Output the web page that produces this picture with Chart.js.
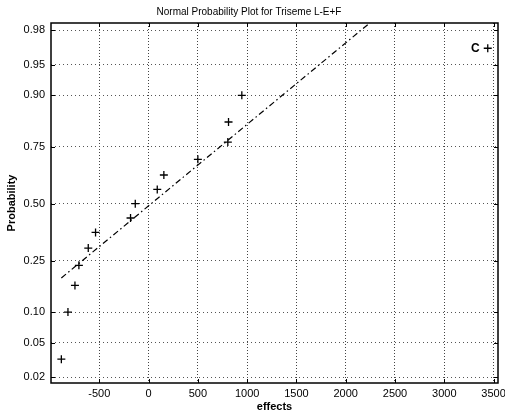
<!DOCTYPE html>
<html><head><meta charset="utf-8">
<script src="https://cdn.jsdelivr.net/npm/chart.js@4/dist/chart.umd.min.js"></script>
<style>html,body{margin:0;padding:0;background:#fff;}</style>
</head><body>
<canvas id="c" width="505" height="416"></canvas>
<script>
// ---- data ----
const effects = [-885, -818, -747, -707, -612, -538, -183, -135, 88, 155, 500, 804, 811, 946, 3441];
const probabilities = [0.033, 0.10, 0.167, 0.233, 0.30, 0.367, 0.433, 0.50, 0.567, 0.633, 0.70, 0.767, 0.833, 0.90, 0.967];
const pointLabels = ['', '', '', '', '', '', '', '', '', '', '', '', '', '', 'C'];
const refLineEffects = [-885, 3441];
const refLineProbs = [0.19, 0.9995];
const xTicks = [-500, 0, 500, 1000, 1500, 2000, 2500, 3000, 3500];
const xTickLabels = ['-500', '0', '500', '1000', '1500', '2000', '2500', '3000', '3500'];
const yTickProbs = [0.02, 0.05, 0.10, 0.25, 0.50, 0.75, 0.90, 0.95, 0.98];
const yTickLabels = ['0.02', '0.05', '0.10', '0.25', '0.50', '0.75', '0.90', '0.95', '0.98'];
const xRange = [-990, 3545];
const yProbRange = [0.017, 0.9837];

// inverse normal CDF (probability axis transform)
function norminv(p) {
  const a = [-3.969683028665376e+01, 2.209460984245205e+02, -2.759285104469687e+02, 1.383577518672690e+02, -3.066479806614716e+01, 2.506628277459239e+00];
  const b = [-5.447609879822406e+01, 1.615858368580409e+02, -1.556989798598866e+02, 6.680131188771972e+01, -1.328068155288572e+01];
  const c = [-7.784894002430293e-03, -3.223964580411365e-01, -2.400758277161838e+00, -2.549732539343734e+00, 4.374664141464968e+00, 2.938163982698783e+00];
  const d = [7.784695709041462e-03, 3.224671290700398e-01, 2.445134137142996e+00, 3.754408661907416e+00];
  const pl = 0.02425, ph = 1 - pl;
  let q, r;
  if (p < pl) {
    q = Math.sqrt(-2 * Math.log(p));
    return (((((c[0]*q+c[1])*q+c[2])*q+c[3])*q+c[4])*q+c[5]) / ((((d[0]*q+d[1])*q+d[2])*q+d[3])*q+1);
  } else if (p <= ph) {
    q = p - 0.5; r = q*q;
    return (((((a[0]*r+a[1])*r+a[2])*r+a[3])*r+a[4])*r+a[5])*q / (((((b[0]*r+b[1])*r+b[2])*r+b[3])*r+b[4])*r+1);
  } else {
    q = Math.sqrt(-2 * Math.log(1 - p));
    return -(((((c[0]*q+c[1])*q+c[2])*q+c[3])*q+c[4])*q+c[5]) / ((((d[0]*q+d[1])*q+d[2])*q+d[3])*q+1);
  }
}

const pointData = effects.map((x, i) => ({x: x, y: norminv(probabilities[i])}));
const lineData = refLineEffects.map((x, i) => ({x: x, y: norminv(refLineProbs[i])}));

const framePlugin = {
  id: 'frame',
  afterDatasetsDraw(chart) {
    const {ctx, chartArea: a, scales: {x, y}} = chart;
    ctx.save();
    ctx.strokeStyle = '#000';
    ctx.lineWidth = 1.5;
    ctx.setLineDash([]);
    ctx.strokeRect(a.left, a.top, a.right - a.left, a.bottom - a.top);
    ctx.lineWidth = 1;
    const tl = 4;
    ctx.beginPath();
    xTicks.forEach(v => {
      const px = Math.round(x.getPixelForValue(v)) + 0.5;
      ctx.moveTo(px, a.bottom); ctx.lineTo(px, a.bottom - tl);
      ctx.moveTo(px, a.top); ctx.lineTo(px, a.top + tl);
    });
    yTickProbs.forEach(p => {
      const py = Math.round(y.getPixelForValue(norminv(p))) + 0.5;
      ctx.moveTo(a.left, py); ctx.lineTo(a.left + tl, py);
      ctx.moveTo(a.right, py); ctx.lineTo(a.right - tl, py);
    });
    ctx.stroke();
    // point labels
    ctx.fillStyle = '#000';
    ctx.font = 'bold 12px "Liberation Sans", Arial, sans-serif';
    ctx.textAlign = 'right';
    ctx.textBaseline = 'middle';
    pointData.forEach((pt, i) => {
      if (!pointLabels[i]) return;
      ctx.fillText(pointLabels[i], x.getPixelForValue(pt.x) - 8, y.getPixelForValue(pt.y));
    });
    ctx.restore();
  }
};

const tickFont = {family: '"Liberation Sans", Arial, sans-serif', size: 11};

new Chart(document.getElementById('c'), {
  type: 'scatter',
  data: {
    datasets: [
      {
        type: 'line',
        data: lineData,
        borderColor: '#000',
        borderWidth: 1.2,
        borderDash: [6, 3, 1.5, 3],
        pointRadius: 0,
        fill: false,
        tension: 0
      },
      {
        data: pointData,
        pointStyle: 'cross',
        pointRadius: 4,
        borderColor: '#000',
        backgroundColor: '#000',
        pointBorderWidth: 1.3,
        showLine: false
      }
    ]
  },
  options: {
    responsive: false,
    animation: false,
    devicePixelRatio: 1,
    layout: {padding: {left: 0, right: 7, top: 0, bottom: 0}},
    plugins: {
      legend: {display: false},
      tooltip: {enabled: false},
      title: {
        display: true,
        text: 'Normal Probability Plot for Triseme L-E+F',
        color: '#000',
        font: {family: '"Liberation Sans", Arial, sans-serif', size: 10, weight: 'normal', lineHeight: 1.2},
        padding: {top: 6, bottom: 5}
      }
    },
    scales: {
      x: {
        type: 'linear',
        min: xRange[0],
        max: xRange[1],
        afterBuildTicks: s => { s.ticks = xTicks.map(v => ({value: v})); },
        afterFit: s => { s.height = 33; s.paddingLeft = 0; s.paddingRight = 0; },
        ticks: {color: '#000', font: tickFont, padding: 4, maxRotation: 0, autoSkip: false,
                callback: (v, i) => xTickLabels[i]},
        grid: {color: '#444', lineWidth: 1, drawTicks: false},
        border: {display: false, dash: [1, 2]},
        title: {display: true, text: 'effects', color: '#000',
                font: {family: '"Liberation Sans", Arial, sans-serif', size: 11, weight: 'bold', lineHeight: 1.2},
                padding: {top: 0, bottom: 2}}
      },
      y: {
        type: 'linear',
        min: norminv(yProbRange[0]),
        max: norminv(yProbRange[1]),
        afterBuildTicks: s => { s.ticks = yTickProbs.map(p => ({value: norminv(p)})); },
        afterFit: s => { s.width = 51; s.paddingTop = 0; s.paddingBottom = 0; },
        ticks: {color: '#000', font: tickFont, padding: 6, autoSkip: false,
                callback: (v, i) => yTickLabels[i]},
        grid: {color: '#555', lineWidth: 1, drawTicks: false},
        border: {display: false, dash: [1, 3]},
        title: {display: true, text: 'Probability', color: '#000',
                font: {family: '"Liberation Sans", Arial, sans-serif', size: 11, weight: 'bold', lineHeight: 1.2},
                padding: {top: 5, bottom: 0}}
      }
    }
  },
  plugins: [framePlugin]
});
</script>
</body></html>
